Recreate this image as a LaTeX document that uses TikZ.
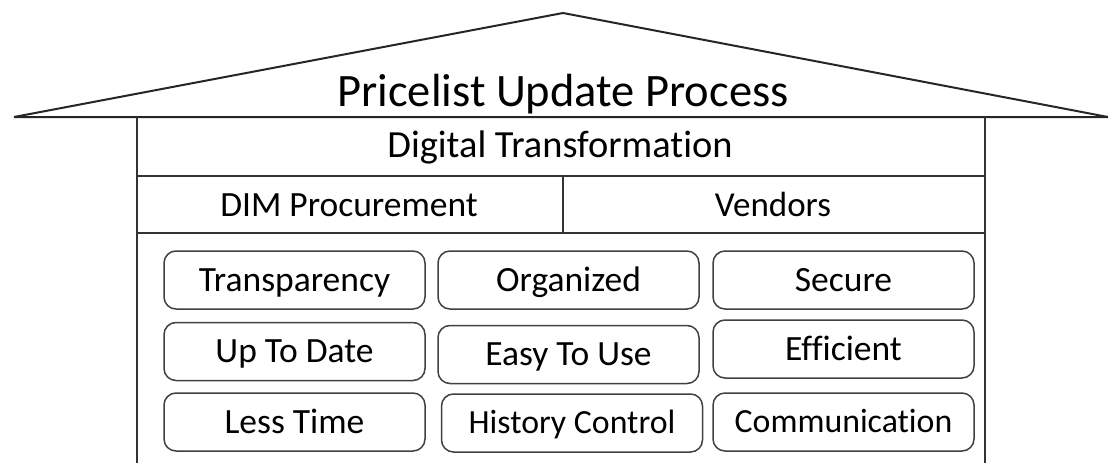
\documentclass[tikz,border=0pt]{standalone}
\usepackage{fontspec}
\setmainfont[RawFeature={-liga;-clig}]{Carlito}
\begin{document}
\begin{tikzpicture}[x=1pt,y=-1pt,
  wall/.style={draw=black!80,line width=1.5pt},
  roofline/.style={draw=black!85,line width=2pt,line join=miter},
  cell/.style={anchor=base,inner sep=0pt},
  quality/.style={draw=black!75,line width=1.5pt,rounded corners=12pt,
    minimum width=261pt,minimum height=58pt,inner sep=0pt,
    text height=22.4pt,text depth=0pt,
    font=\fontsize{35.5}{38}\selectfont},
  smallquality/.style={quality,text height=21.3pt,font=\fontsize{33.8}{37}\selectfont}]
\useasboundingbox (0,0) rectangle (1115,463);
% roof
\coordinate (roofL) at (14,117);
\coordinate (apex) at (563,13);
\coordinate (roofR) at (1108,117);
\draw[roofline] (roofL) -- (apex) -- (roofR) -- cycle;
% walls and floors
\coordinate (wallTL) at (137,117);
\coordinate (wallTR) at (985,117);
\coordinate (wallBL) at (137,463);
\coordinate (wallBR) at (985,463);
\draw[wall] (wallTL) -- (wallBL);
\draw[wall] (wallTR) -- (wallBR);
\draw[wall] (137,176) -- (985,176);
\draw[wall] (137,233) -- (985,233);
\draw[wall] (563,176) -- (563,233);
% labels
\node[cell,font=\fontsize{46.5}{50}\selectfont] (title) at (563,106) {Pricelist Update Process};
\node[cell,font=\fontsize{38.4}{42}\selectfont] (digital) at (560,157) {Digital Transformation};
\node[cell,font=\fontsize{35.5}{38}\selectfont] (dim) at (349,216.5) {DIM Procurement};
\node[cell,font=\fontsize{35}{38}\selectfont] (vendors) at (773,216.5) {Vendors};
% qualities
\node[quality] (transparency) at (294.5,280) {Transparency};
\node[quality] (organized) at (568.5,280) {Organized};
\node[quality] (secure) at (843.5,280) {Secure};
\node[quality] (uptodate) at (294.5,351.5) {Up To Date};
\node[quality] (easy) at (568.5,354.5) {Easy To Use};
\node[quality] (efficient) at (843.5,349) {Efficient};
\node[quality] (lesstime) at (294.5,422) {Less Time};
\node[smallquality] (history) at (572,423) {History Control};
\node[smallquality] (communication) at (843.5,422) {Communication};
\end{tikzpicture}
\end{document}
